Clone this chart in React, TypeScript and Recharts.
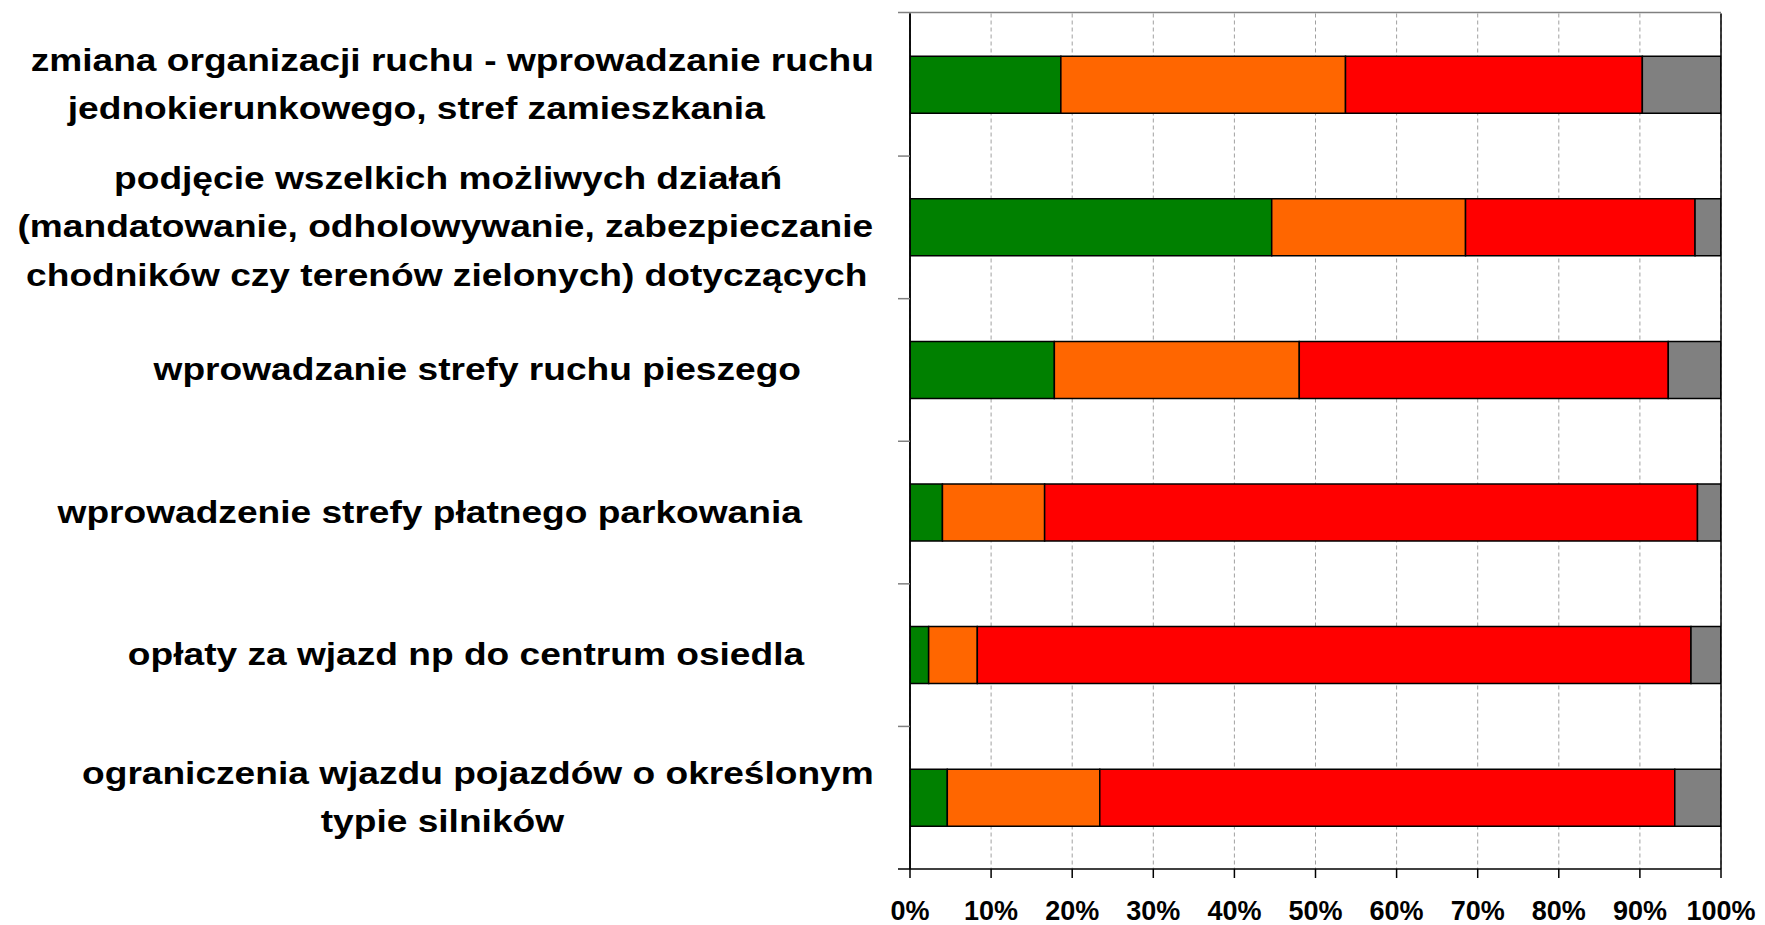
import React from 'react';
import { BarChart, Bar, XAxis, YAxis, CartesianGrid, ReferenceLine } from 'recharts';

// ---- data ----
const categories: string[] = [
  'zmiana organizacji ruchu - wprowadzanie ruchu\njednokierunkowego, stref zamieszkania',
  'podjęcie wszelkich możliwych działań\n(mandatowanie, odholowywanie, zabezpieczanie\nchodników czy terenów zielonych) dotyczących',
  'wprowadzanie strefy ruchu pieszego',
  'wprowadzenie strefy płatnego parkowania',
  'opłaty za wjazd np do centrum osiedla',
  'ograniczenia wjazdu pojazdów o określonym\ntypie silników',
];
const seriesNames = ['tak', 'raczej tak', 'nie', 'trudno powiedzieć'];
const greenValues = [18.6, 44.6, 17.8, 4.0, 2.3, 4.6];
const orangeValues = [35.1, 23.9, 30.2, 12.6, 6.0, 18.8];
const redValues = [36.6, 28.3, 45.5, 80.5, 88.0, 70.9];
const greyValues = [9.7, 3.2, 6.5, 2.9, 3.7, 5.7];
const xTicks = [0, 10, 20, 30, 40, 50, 60, 70, 80, 90, 100];

const data = categories.map((name, i) => ({
  name,
  s0: greenValues[i],
  s1: orangeValues[i],
  s2: redValues[i],
  s3: greyValues[i],
}));

// ---- layout / style ----
const W = 1765;
const H = 925;
const TOP = 13.5;
const BORDER_TOP = 12.5;
const RIGHT = 44;
const Y_AXIS_W = 910;
const X_AXIS_H = 56;
const PLOT_H = H - TOP - X_AXIS_H;
const FONT = '"Liberation Sans", Arial, Helvetica, sans-serif';
const LABEL_FS = 32;
const LABEL_SCALE_X = 1.16;
const LINE_GAP = 48.3;
// horizontal centre of each label line (Excel-style placement)
const LINE_CX: number[][] = [
  [452.3, 416.3],
  [448.1, 445.3, 446.7],
  [477.3],
  [429.7],
  [466],
  [477.9, 442.4],
];
const colors = ['#008000', '#FF6600', '#FF0000', '#808080'];

const CatTick = (props: any) => {
  const { y, payload, index } = props;
  const lines = String(payload.value).split('\n');
  const n = lines.length;
  const band = PLOT_H / categories.length;
  const ax = Y_AXIS_W;
  const last = index === categories.length - 1;
  const first = index === 0;
  return (
    <g>
      {!first && (
        <line x1={ax - 12} x2={ax} y1={y - band / 2} y2={y - band / 2} stroke="#808080" strokeWidth={1.5} />
      )}
      {last && <line x1={ax - 12} x2={ax} y1={y + band / 2} y2={y + band / 2} stroke="#000" strokeWidth={1.5} />}
      {lines.map((t, i) => {
        const cx = (LINE_CX[index] && LINE_CX[index][i]) || 446;
        const by = y + 10 + (i - (n - 1) / 2) * LINE_GAP;
        return (
          <text
            key={i}
            transform={`translate(${cx}, ${by}) scale(${LABEL_SCALE_X}, 1)`}
            textAnchor="middle"
            fontFamily={FONT}
            fontWeight="bold"
            fontSize={LABEL_FS}
            fill="#000"
          >
            {t}
          </text>
        );
      })}
    </g>
  );
};

const TopBorder = () => (
  <line x1={Y_AXIS_W - 12} x2={W - RIGHT} y1={BORDER_TOP} y2={BORDER_TOP} stroke="#808080" strokeWidth={1.5} />
);

export default function App() {
  return (
    <div style={{ position: 'absolute', left: 0, top: 0, width: W, height: H, background: '#fff' }}>
      <BarChart
        width={W}
        height={H}
        data={data}
        layout="vertical"
        margin={{ top: TOP, right: RIGHT, bottom: 0, left: 0 }}
        barCategoryGap="30%"
      >
        <CartesianGrid horizontal={false} stroke="#a0a0a0" strokeDasharray="4 3" />
        <XAxis
          type="number"
          domain={[0, 100]}
          allowDataOverflow
          ticks={xTicks}
          tickFormatter={(v: number) => `${v}%`}
          height={X_AXIS_H}
          tickSize={9}
          tickMargin={23}
          axisLine={{ stroke: '#000', strokeWidth: 1.5 }}
          tickLine={{ stroke: '#000', strokeWidth: 1.5 }}
          tick={{ fontSize: 27, fontWeight: 'bold', fill: '#000', fontFamily: FONT }}
          interval={0}
        />
        <YAxis
          type="category"
          dataKey="name"
          width={Y_AXIS_W}
          tickLine={false}
          axisLine={{ stroke: '#000', strokeWidth: 1.5 }}
          tick={<CatTick />}
          interval={0}
        />
        {['s0', 's1', 's2', 's3'].map((k, i) => (
          <Bar
            key={k}
            dataKey={k}
            name={seriesNames[i]}
            stackId="a"
            fill={colors[i]}
            stroke="#000"
            strokeWidth={1.5}
            isAnimationActive={false}
          />
        ))}
        <ReferenceLine x={100} stroke="#000" strokeWidth={1.5} />
        <ReferenceLine x={0} stroke="#000" strokeWidth={1.5} />
        <TopBorder />
      </BarChart>
    </div>
  );
}
